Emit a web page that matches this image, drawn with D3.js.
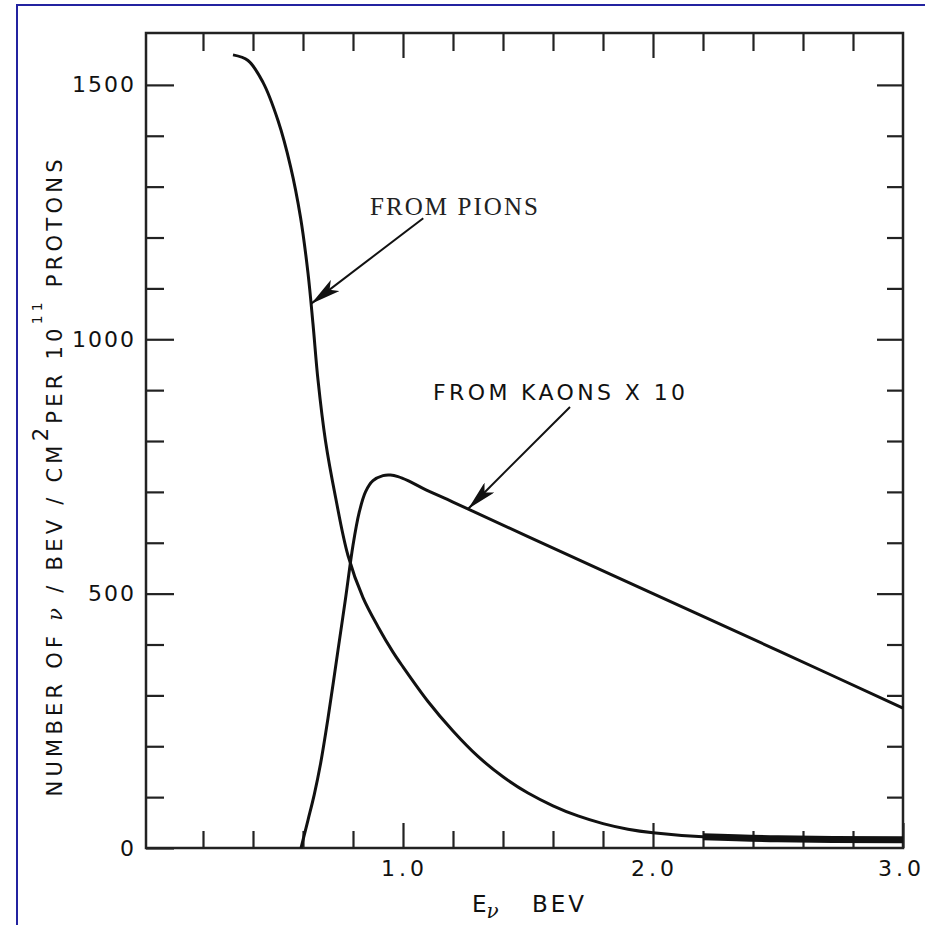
<!DOCTYPE html>
<html><head><meta charset="utf-8">
<script src="https://cdn.jsdelivr.net/npm/d3@7"></script>
<style>body{margin:0;background:#fff}svg{display:block}</style>
</head><body>
<script>
// ---- data ----
const pionEnergy = [0.32, 0.38, 0.44, 0.50, 0.55, 0.59, 0.62, 0.64, 0.66, 0.69, 0.73, 0.78, 0.84, 0.90, 0.96, 1.0, 1.1, 1.2, 1.3, 1.4, 1.5, 1.6, 1.7, 1.8, 1.9, 2.0, 2.2, 2.5, 3.0];
const pionCount  = [1559, 1548, 1505, 1430, 1340, 1240, 1130, 1030, 920, 800, 690, 575, 492, 435, 385, 356, 288, 230, 180, 140, 108, 83, 63, 48, 37, 30, 22, 18, 16];
const kaonEnergy = [0.592, 0.62, 0.645, 0.67, 0.70, 0.74, 0.77, 0.80, 0.825, 0.85, 0.88, 0.92, 0.95, 0.98, 1.02, 1.08, 1.2, 1.5, 2.0, 2.5, 3.0];
const kaonCount  = [0, 55, 105, 165, 255, 389, 490, 595, 660, 700, 722, 732, 733, 730, 722, 707, 680, 612, 500, 388, 275];
const pionTailStart = 2.2; // heavy-drawn tail of the pion curve

const xMinorTicks = [0.2, 0.4, 0.6, 0.8, 1.2, 1.4, 1.6, 1.8, 2.2, 2.4, 2.6, 2.8];
const xMajorTicks = [1.0, 2.0, 3.0];
const xTickLabels = ["1.0", "2.0", "3.0"];
const yMinorTicks = [100, 200, 300, 400, 600, 700, 800, 900, 1100, 1200, 1300, 1400];
const yMajorTicks = [0, 500, 1000, 1500];
const yTickLabels = ["0", "500", "1000", "1500"];

const pionLabel = "FROM PIONS";
const kaonLabel = "FROM KAONS X 10";
const pionArrow = {from: [1.081, 1238], to: [0.633, 1070]};
const kaonArrow = {from: [1.668, 867], to: [1.261, 667]};
const pionLabelAt = [0.868, 1244];
const kaonLabelAt = [1.12, 880];

// ---- layout ----
const W = 925, H = 925;
const svg = d3.select("body").append("svg").attr("width", W).attr("height", H);
svg.append("rect").attr("width", W).attr("height", H).attr("fill", "#fff");
// blue outer frame
svg.append("rect").attr("x", 17).attr("y", 5).attr("width", 950).attr("height", 950)
  .attr("fill", "none").attr("stroke", "#2323a0").attr("stroke-width", 2);

const x = d3.scaleLinear().domain([-0.028, 3.0]).range([146, 903]);
const y = d3.scaleLinear().domain([0, 1602]).range([848, 33]);
const ink = "#111";
const font = "'DejaVu Sans', sans-serif";

// frame
svg.append("rect").attr("x", x.range()[0]).attr("y", y.range()[1])
  .attr("width", x.range()[1] - x.range()[0]).attr("height", y.range()[0] - y.range()[1])
  .attr("fill", "none").attr("stroke", "#222").attr("stroke-width", 2.5);

function styleAxis(g) {
  g.select(".domain").remove();
  g.selectAll(".tick line").attr("stroke", "#222").attr("stroke-width", 2.2);
  g.selectAll(".tick text").attr("fill", ink).style("font-family", font).style("font-size", "22px");
}
// bottom
svg.append("g").attr("transform", `translate(0,${y(0)})`)
  .call(d3.axisBottom(x).tickValues(xMinorTicks).tickSize(-17).tickFormat(""))
  .call(styleAxis);
svg.append("g").attr("transform", `translate(0,${y(0)})`)
  .call(d3.axisBottom(x).tickValues(xMajorTicks).tickSize(-25).tickPadding(12)
    .tickFormat((d, i) => xTickLabels[i]))
  .call(styleAxis)
  .call(g => g.selectAll(".tick text").style("letter-spacing", "4px")
    .attr("dx", d => d === 3 ? "-2px" : "1px"));
// top
svg.append("g").attr("transform", `translate(0,${y.range()[1]})`)
  .call(d3.axisTop(x).tickValues(xMinorTicks).tickSize(-18).tickFormat("")).call(styleAxis);
svg.append("g").attr("transform", `translate(0,${y.range()[1]})`)
  .call(d3.axisTop(x).tickValues(xMajorTicks.filter(v => v < 3)).tickSize(-25).tickFormat("")).call(styleAxis);
// left
svg.append("g").attr("transform", `translate(${x.range()[0]},0)`)
  .call(d3.axisLeft(y).tickValues(yMinorTicks).tickSize(-18).tickFormat("")).call(styleAxis);
svg.append("g").attr("transform", `translate(${x.range()[0]},0)`)
  .call(d3.axisLeft(y).tickValues(yMajorTicks).tickSize(-28).tickPadding(10)
    .tickFormat((d, i) => yTickLabels[i]))
  .call(styleAxis)
  .call(g => g.selectAll(".tick text").style("letter-spacing", "2px"));
// right
svg.append("g").attr("transform", `translate(${x.range()[1]},0)`)
  .call(d3.axisRight(y).tickValues(yMinorTicks).tickSize(-16).tickFormat("")).call(styleAxis);
svg.append("g").attr("transform", `translate(${x.range()[1]},0)`)
  .call(d3.axisRight(y).tickValues(yMajorTicks.filter(v => v > 0)).tickSize(-26).tickFormat("")).call(styleAxis);

// curves
const line = d3.line().x(d => x(d[0])).y(d => y(d[1])).curve(d3.curveCatmullRom.alpha(0.5));
const pion = pionEnergy.map((e, i) => [e, pionCount[i]]);
const kaon = kaonEnergy.map((e, i) => [e, kaonCount[i]]);
svg.append("path").datum(pion).attr("d", line).attr("fill", "none")
  .attr("stroke", ink).attr("stroke-width", 3).attr("stroke-linejoin", "round");
svg.append("path").datum(pion.filter(d => d[0] >= pionTailStart)).attr("d", line).attr("fill", "none")
  .attr("stroke", ink).attr("stroke-width", 7);
svg.append("path").datum(kaon).attr("d", line).attr("fill", "none")
  .attr("stroke", ink).attr("stroke-width", 3).attr("stroke-linejoin", "round");

// arrows
const defs = svg.append("defs");
defs.append("marker").attr("id", "head").attr("viewBox", "0 0 30 14")
  .attr("refX", 30).attr("refY", 7).attr("markerWidth", 30).attr("markerHeight", 14)
  .attr("markerUnits", "userSpaceOnUse").attr("orient", "auto")
  .append("path").attr("d", "M0,0 L30,7 L0,14 L7,7 Z").attr("fill", ink);
[pionArrow, kaonArrow].forEach(a => {
  svg.append("line")
    .attr("x1", x(a.from[0])).attr("y1", y(a.from[1]))
    .attr("x2", x(a.to[0])).attr("y2", y(a.to[1]))
    .attr("stroke", ink).attr("stroke-width", 2).attr("marker-end", "url(#head)");
});

// annotation labels
svg.append("text").attr("x", x(pionLabelAt[0])).attr("y", y(pionLabelAt[1]))
  .attr("textLength", 168).attr("lengthAdjust", "spacing")
  .style("font-family", "'Liberation Serif', 'DejaVu Serif', serif").style("font-size", "25px")
  .attr("fill", "#222").text(pionLabel);
svg.append("text").attr("x", x(kaonLabelAt[0])).attr("y", y(kaonLabelAt[1]))
  .attr("textLength", 252).attr("lengthAdjust", "spacing")
  .style("font-family", font).style("font-size", "22px")
  .attr("fill", ink).text(kaonLabel);

// x-axis title
const xt = svg.append("text").attr("x", 472).attr("y", 912)
  .style("font-family", font).style("font-size", "23px").attr("fill", ink);
xt.append("tspan").text("E");
xt.append("tspan").attr("dy", 6).style("font-family", "'DejaVu Serif', serif")
  .style("font-style", "italic").style("font-size", "20px").text("ν");
svg.append("text").attr("x", 532).attr("y", 912).style("letter-spacing", "3px")
  .style("font-family", font).style("font-size", "23px").attr("fill", ink).text("BEV");

// y-axis title
const yt = svg.append("text").attr("transform", "translate(62,478) rotate(-90)")
  .attr("text-anchor", "middle").attr("textLength", 637).attr("lengthAdjust", "spacing")
  .style("font-family", font).style("font-size", "21px").attr("fill", ink);
yt.append("tspan").text("NUMBER OF ");
yt.append("tspan").style("font-family", "'DejaVu Serif', serif").style("font-style", "italic").text("ν");
yt.append("tspan").text(" / BEV / CM");
yt.append("tspan").attr("dy", -14).text("2");
yt.append("tspan").attr("dy", 14).text("PER 10");
yt.append("tspan").attr("dy", -20).style("font-size", "14px").text("11");
yt.append("tspan").attr("dy", 20).text(" PROTONS");
</script>
</body></html>
